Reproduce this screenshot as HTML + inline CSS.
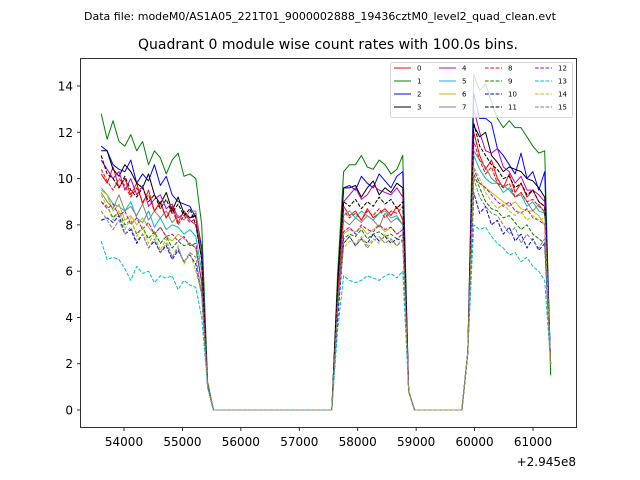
<!DOCTYPE html>
<html><head><meta charset="utf-8"><style>
body{margin:0;background:#fff;}
svg{display:block;font-family:"DejaVu Sans","Liberation Sans",sans-serif;}
</style></head><body>
<svg id="chart" width="640" height="480" viewBox="0 0 640 480" xmlns="http://www.w3.org/2000/svg">
<rect x="0" y="0" width="640" height="480" fill="#fff"/>
<text x="320" y="20" font-size="11" text-anchor="middle">Data file: modeM0/AS1A05_221T01_9000002888_19436cztM0_level2_quad_clean.evt</text>
<text x="328" y="49" font-size="14" text-anchor="middle">Quadrant 0 module wise count rates with 100.0s bins.</text>
<g id="plot"></g>
<rect x="80.5" y="58.5" width="496" height="369" fill="none" stroke="#000" stroke-width="0.8"/>
<g id="axes"></g>
<text x="576" y="466" font-size="12" text-anchor="end">+2.945e8</text>
<g id="legend"></g>
</svg>
<script>
const startTime = 53610;
const binSize = 101.2;
const xTicks = [54000,55000,56000,57000,58000,59000,60000,61000];
const yTicks = [0,2,4,6,8,10,12,14];
const colors = ['#ff0000','#008000','#0000ff','#000000','#bf00bf','#00bfbf','#bfbf00','#808080'];
const s0=[10.2,9.8,10.5,9.6,10.0,9.3,9.8,8.9,9.5,8.6,9.0,8.3,8.8,8.1,8.6,8.3,8.5,7.0,1.0,0,0,0,0,0,0,0,0,0,0,0,0,0,0,0,0,0,0,0,0,0,5.5,8.8,8.4,8.6,8.2,8.7,8.3,8.5,8.7,8.4,8.8,8.2,0.8,0,0,0,0,0,0,0,0,0,2.5,12.0,11.0,10.4,10.8,10.0,9.6,10.2,9.4,9.8,9.2,9.5,9.0,8.8,2.0];
const s1=[12.8,11.7,12.5,11.6,11.4,11.9,11.2,11.6,10.6,11.2,10.9,10.2,10.8,11.1,10.1,10.2,10.0,8.0,1.2,0,0,0,0,0,0,0,0,0,0,0,0,0,0,0,0,0,0,0,0,0,6.0,10.3,10.6,10.6,11.0,10.5,10.4,10.8,10.6,10.2,10.4,11.0,0.8,0,0,0,0,0,0,0,0,0,2.5,14.5,13.8,14.1,13.3,12.6,12.2,12.5,12.2,12.2,11.8,11.4,11.1,11.2,1.5];
const s2=[11.4,11.2,10.6,10.4,10.3,10.8,9.8,10.2,9.9,10.6,9.7,10.1,9.3,9.0,8.9,8.8,8.3,7.0,1.0,0,0,0,0,0,0,0,0,0,0,0,0,0,0,0,0,0,0,0,0,0,5.5,9.6,9.7,9.5,10.1,9.8,9.6,10.2,9.9,9.6,10.1,10.3,0.8,0,0,0,0,0,0,0,0,0,2.5,13.7,12.6,12.6,12.4,11.3,11.0,10.6,10.2,11.1,10.0,10.3,9.5,10.3,2.0];
const s3=[11.2,11.2,10.4,10.1,10.6,10.3,9.8,9.6,10.2,9.3,8.9,9.4,8.6,9.2,8.5,8.3,8.4,6.5,1.0,0,0,0,0,0,0,0,0,0,0,0,0,0,0,0,0,0,0,0,0,0,5.5,9.6,9.6,9.7,9.2,9.6,9.9,9.3,9.6,9.4,9.8,9.6,0.8,0,0,0,0,0,0,0,0,0,2.5,12.3,11.8,12.0,11.0,10.7,10.3,10.5,10.4,10.3,10.0,9.9,9.6,9.2,2.0];
const s4=[10.8,10.4,10.0,10.3,9.5,10.0,9.3,9.7,8.8,9.1,9.3,8.7,8.9,8.3,8.5,8.2,8.0,6.5,1.0,0,0,0,0,0,0,0,0,0,0,0,0,0,0,0,0,0,0,0,0,0,5.0,9.0,9.3,9.6,9.1,9.3,9.7,9.5,9.4,9.3,9.6,9.2,0.8,0,0,0,0,0,0,0,0,0,2.5,13.0,12.0,11.2,11.1,11.3,10.5,10.3,9.8,10.1,9.5,9.5,9.3,9.0,2.0];
const s5=[9.6,9.3,8.9,8.8,8.6,9.0,8.3,8.1,8.6,7.9,8.3,7.8,8.0,7.9,7.6,7.8,7.5,6.0,1.0,0,0,0,0,0,0,0,0,0,0,0,0,0,0,0,0,0,0,0,0,0,4.5,8.4,8.6,8.3,8.6,8.4,8.2,8.5,8.6,8.3,8.4,8.0,0.8,0,0,0,0,0,0,0,0,0,2.5,11.0,10.4,10.0,9.8,9.8,9.4,9.6,9.2,9.3,8.8,9.0,8.6,8.5,2.0];
const s6=[9.5,9.3,8.6,8.9,8.2,8.4,8.0,8.3,7.9,7.6,7.9,7.5,7.3,7.6,7.4,7.2,7.0,5.5,1.0,0,0,0,0,0,0,0,0,0,0,0,0,0,0,0,0,0,0,0,0,0,4.5,7.6,7.8,7.7,7.9,7.6,7.8,8.0,7.7,7.9,7.6,7.8,0.8,0,0,0,0,0,0,0,0,0,2.5,10.0,9.8,9.6,9.4,9.2,9.0,8.8,9.0,8.7,8.6,8.6,8.4,8.0,2.0];
const s7=[9.4,9.0,8.7,9.3,8.6,8.8,8.4,8.9,8.2,8.6,8.3,8.6,8.1,8.4,8.2,8.6,8.6,6.5,1.0,0,0,0,0,0,0,0,0,0,0,0,0,0,0,0,0,0,0,0,0,0,5.0,8.2,8.0,8.3,8.1,8.4,8.2,7.9,8.5,8.1,8.3,8.0,0.8,0,0,0,0,0,0,0,0,0,2.5,11.2,10.8,10.5,10.0,9.8,9.7,9.5,9.2,9.4,9.0,8.6,8.9,8.5,2.0];
const s8=[10.4,9.9,9.5,10.0,9.7,9.2,9.6,9.0,9.3,8.6,8.9,8.3,8.7,8.0,8.4,8.1,8.3,6.5,1.0,0,0,0,0,0,0,0,0,0,0,0,0,0,0,0,0,0,0,0,0,0,5.0,8.6,8.3,8.5,8.2,8.6,8.4,8.7,8.3,8.6,8.5,8.8,0.8,0,0,0,0,0,0,0,0,0,2.5,11.6,10.8,10.2,10.5,9.8,9.6,9.8,9.2,9.4,9.0,9.1,8.8,8.6,2.0];
const s9=[9.0,8.8,8.3,8.6,8.0,8.2,7.6,7.9,7.4,7.7,7.2,7.5,7.0,7.3,7.1,7.2,7.0,5.5,1.0,0,0,0,0,0,0,0,0,0,0,0,0,0,0,0,0,0,0,0,0,0,4.5,7.4,7.6,7.5,7.8,7.4,7.6,7.7,7.5,7.6,7.4,7.6,0.8,0,0,0,0,0,0,0,0,0,2.5,10.2,9.6,9.0,8.7,8.6,8.3,8.4,8.1,7.8,8.0,7.6,7.4,7.2,2.0];
const s10=[8.2,8.3,8.1,8.4,7.6,7.8,7.2,7.6,7.0,7.3,6.8,7.1,6.5,6.9,6.4,6.7,6.3,5.0,1.0,0,0,0,0,0,0,0,0,0,0,0,0,0,0,0,0,0,0,0,0,0,4.0,7.2,7.5,7.1,7.4,7.2,7.6,7.3,7.5,7.2,7.4,7.3,0.8,0,0,0,0,0,0,0,0,0,2.5,9.4,8.5,8.8,8.0,8.2,7.6,7.9,7.3,7.6,7.0,7.4,6.9,7.2,2.0];
const s11=[11.0,10.2,10.0,9.6,10.1,9.5,9.2,9.6,9.0,9.3,8.7,9.1,8.5,8.9,8.4,8.7,8.0,6.5,1.0,0,0,0,0,0,0,0,0,0,0,0,0,0,0,0,0,0,0,0,0,0,5.5,9.0,8.8,9.1,8.7,9.0,8.8,9.2,8.9,9.1,8.7,9.0,0.8,0,0,0,0,0,0,0,0,0,2.5,12.4,11.4,11.0,10.6,10.4,10.0,10.1,9.6,9.8,9.3,9.5,9.0,8.8,2.0];
const s12=[9.0,8.7,8.9,8.4,8.6,8.0,8.3,7.8,8.1,7.6,7.9,7.5,7.6,7.3,7.5,7.1,7.2,5.5,1.0,0,0,0,0,0,0,0,0,0,0,0,0,0,0,0,0,0,0,0,0,0,4.5,7.7,7.9,7.6,8.0,7.8,7.7,8.0,7.8,7.9,7.6,7.8,0.8,0,0,0,0,0,0,0,0,0,2.5,10.4,9.8,9.6,9.3,9.0,8.8,9.0,8.6,8.5,8.7,8.3,8.2,8.0,2.0];
const s13=[7.3,6.5,6.6,6.5,6.1,5.6,6.2,5.9,6.0,5.5,5.8,5.7,5.8,5.2,5.6,5.4,5.3,4.0,1.0,0,0,0,0,0,0,0,0,0,0,0,0,0,0,0,0,0,0,0,0,0,3.5,5.8,5.6,5.5,5.6,5.8,5.7,5.6,5.8,5.9,5.7,6.0,0.8,0,0,0,0,0,0,0,0,0,2.5,8.0,7.8,7.9,7.5,7.2,7.0,6.7,6.8,6.4,6.6,6.2,6.0,5.6,2.0];
const s14=[9.3,8.8,8.2,8.6,7.8,8.3,7.5,7.9,7.2,7.6,6.9,7.4,6.6,7.1,6.3,6.8,6.0,5.0,1.0,0,0,0,0,0,0,0,0,0,0,0,0,0,0,0,0,0,0,0,0,0,4.5,7.0,7.3,7.2,7.5,7.1,7.4,7.2,7.6,7.3,7.1,7.4,0.8,0,0,0,0,0,0,0,0,0,2.5,10.5,10.0,9.4,9.0,8.7,8.9,8.6,8.4,8.6,8.2,8.4,8.2,8.3,2.0];
const s15=[8.6,8.2,7.8,8.2,7.6,7.9,7.3,7.6,7.0,7.4,6.8,7.2,6.6,7.0,6.4,6.8,6.6,5.0,1.0,0,0,0,0,0,0,0,0,0,0,0,0,0,0,0,0,0,0,0,0,0,4.5,7.2,7.5,7.1,7.4,7.0,7.3,7.5,7.2,7.4,7.1,7.3,0.8,0,0,0,0,0,0,0,0,0,2.5,10.0,9.2,8.8,8.5,8.4,8.0,7.6,7.9,7.2,7.6,7.3,7.0,7.4,2.0];
const series=[s0,s1,s2,s3,s4,s5,s6,s7,s8,s9,s10,s11,s12,s13,s14,s15];

const NS='http://www.w3.org/2000/svg';
function xs(t){return 124+(t-54000)*(409/7000);}
function ys(v){return 410-v*(324/14);}
function mk(tag,attrs,parent){const e=document.createElementNS(NS,tag);for(const k in attrs)e.setAttribute(k,attrs[k]);parent.appendChild(e);return e;}
const plot=document.getElementById('plot');
const axes=document.getElementById('axes');
const legend=document.getElementById('legend');

series.forEach((vals,si)=>{
  const pts=vals.map((v,i)=>xs(startTime+binSize*i).toFixed(2)+','+ys(v).toFixed(2)).join(' ');
  const pl=mk('polyline',{points:pts,fill:'none',stroke:colors[si%8],'stroke-width':1,'stroke-linejoin':'round'},plot);
  if(si>=8)pl.setAttribute('stroke-dasharray','3.7,1.6');
  
  
});

xTicks.forEach(t=>{
  const x=xs(t);
  const tk=mk('line',{x1:x,x2:x,y1:427.5,y2:431,stroke:'#000','stroke-width':0.8},axes);
  
  
  const lb=mk('text',{x:x,y:446,'font-size':12,'text-anchor':'middle'},axes);
  lb.textContent=t;
  
  
});
yTicks.forEach(v=>{
  const y=ys(v);
  const tk=mk('line',{x1:77,x2:80.5,y1:y,y2:y,stroke:'#000','stroke-width':0.8},axes);
  
  
  const lb=mk('text',{x:73,y:y+4.5,'font-size':12,'text-anchor':'end'},axes);
  lb.textContent=v;
  
  
});

const lbox=mk('rect',{x:390.5,y:62.5,width:182,height:55,rx:2,fill:'#fff','fill-opacity':0.8,stroke:'#ccc','stroke-width':0.8},legend);


const colX=[394,439,485,535];
const rowY=[68,81,94,107];
series.forEach((vals,si)=>{
  const c=Math.floor(si/4), r=si%4;
  const ln=mk('line',{x1:colX[c],x2:colX[c]+17,y1:rowY[r],y2:rowY[r],stroke:colors[si%8],'stroke-width':1},legend);
  if(si>=8)ln.setAttribute('stroke-dasharray','3.7,1.6');
  
  
  const tx=mk('text',{x:colX[c]+23,y:rowY[r]+2.5,'font-size':7},legend);
  tx.textContent=si;
  
  
});
</script>
</body></html>
